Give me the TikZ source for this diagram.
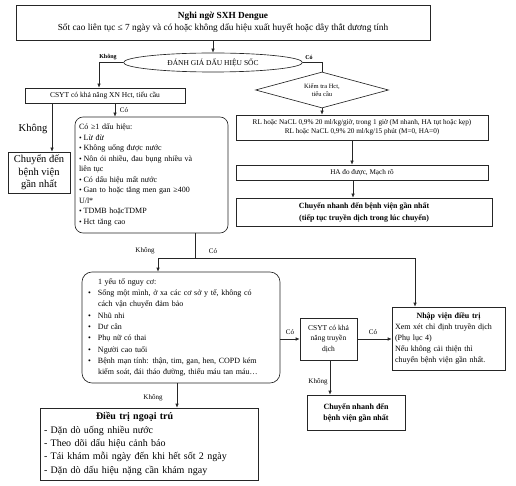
\documentclass[tikz,border=0pt]{standalone}
\usepackage{fontspec}
\setmainfont{Liberation Serif}
\usetikzlibrary{shapes.geometric,arrows.meta,calc}
\newcommand\mybul{\makebox[10pt][l]{•}}
\newcommand\smbul{{\fontsize{7.5}{7.5}\selectfont •}\hspace{2pt}}
\begin{document}
\begin{tikzpicture}[x=1pt,y=-1pt,
  box/.style={draw=black!85, line width=0.65pt, inner sep=2pt},
  arr/.style={draw=black!85, line width=0.65pt, -{Latex[length=4pt,width=3.5pt]}},
  ln/.style={draw=black!85, line width=0.65pt},
  lbl/.style={inner sep=0pt, font=\fontsize{7}{8}\selectfont},
  blbl/.style={inner sep=0pt, font=\fontsize{6}{7}\selectfont\bfseries},
]
\useasboundingbox (0,0) rectangle (516,486);

% nodes
\node[box, minimum width=414pt, minimum height=35pt, align=center,
  font=\fontsize{9.3}{12.5}\selectfont] (top) at (223,22.5)
  {\textbf{Nghi ngờ SXH Dengue}\\Sốt cao liên tục ≤ 7 ngày và có hoặc không dấu hiệu xuất huyết hoặc dây thắt dương tính};

\node[draw=black!85, line width=0.65pt, ellipse, minimum width=179pt, minimum height=19pt, inner sep=0pt,
  font=\fontsize{7.5}{9}\selectfont] (ell) at (213,62.5) {ĐÁNH GIÁ DẤU HIỆU SỐC};

\node[draw=black!85, line width=0.65pt, diamond, shape aspect=3.7, minimum width=133pt, minimum height=36pt,
  inner sep=0pt, align=center, font=\fontsize{6.5}{8}\selectfont] (dia) at (322,90) {Kiểm tra Hct,\\tiểu cầu};

\node[box, minimum width=160pt, minimum height=15pt, font=\fontsize{7.5}{9}\selectfont] (csyt1) at (105,95.5)
  {CSYT có khả năng XN Hct, tiểu cầu};

\node[box, minimum width=62pt, minimum height=41pt, align=center, inner sep=1pt,
  font=\fontsize{10.5}{12.5}\selectfont] (cd1) at (39,172.5) {Chuyển đến\\bệnh viện\\gần nhất};

\node[box, rounded corners=8pt, minimum width=153pt, minimum height=116pt, text width=145pt, align=left,
  font=\fontsize{8}{10.5}\selectfont] (b1) at (151.5,175)
  {Có ≥1 dấu hiệu:\\
   \smbul Lừ đừ\\
   \smbul Không uống được nước\\
   \smbul Nôn ói nhiều, đau bụng nhiều và\\
   liên tục\\
   \smbul Có dấu hiệu mất nước\\
   \smbul Gan to hoặc tăng men gan ≥400\\
   U/l*\\
   \smbul TDMB hoặcTDMP\\
   \smbul Hct tăng cao};

\node[box, minimum width=252pt, minimum height=25pt, align=center,
  font=\fontsize{7.2}{9}\selectfont] (rl) at (362,127.5)
  {RL hoặc NaCL 0,9\% 20 ml/kg/giờ, trong 1 giờ (M nhanh, HA tụt hoặc kẹp)\\
   RL hoặc NaCL 0,9\% 20 ml/kg/15 phút (M=0, HA=0)};

\node[box, minimum width=252pt, minimum height=15pt, font=\fontsize{7.2}{9}\selectfont] (ha) at (362,172.5)
  {HA đo được, Mạch rõ};

\node[box, minimum width=256pt, minimum height=28pt, align=center,
  font=\fontsize{7.9}{12}\selectfont\bfseries] (cn) at (364,212)
  {Chuyển nhanh đến bệnh viện gần nhất\\(tiếp tục truyền dịch trong lúc chuyển)};

\node[box, rounded corners=10pt, minimum width=198pt, minimum height=111pt, text width=186pt, align=left,
  font=\fontsize{8}{11.3}\selectfont] (risk) at (181,327.5)
  {\hspace*{10pt}1 yếu tố nguy cơ:\\
   \mybul Sống một mình, ở xa các cơ sở y tế, không có\\
   \hspace*{10pt}cách vận chuyển đảm bảo\\
   \mybul Nhũ nhi\\
   \mybul Dư cân\\
   \mybul Phụ nữ có thai\\
   \mybul Người cao tuổi\\
   \mybul \makebox[174pt][s]{Bệnh mạn tính: thận, tim, gan, hen, COPD kém}\\
   \hspace*{10pt}kiểm soát, đái tháo đường, thiếu máu tan máu…};

\node[box, minimum width=57pt, minimum height=42pt, align=center, inner sep=1pt,
  font=\fontsize{7.5}{10.5}\selectfont] (csyt2) at (328.5,339) {CSYT có khả\\năng truyền\\dịch};

\node[box, minimum width=113pt, minimum height=63pt, text width=107pt, align=left,
  font=\fontsize{8}{11}\selectfont] (nv) at (448.5,338.5)
  {\makebox[107pt]{\textbf{Nhập viện điều trị}}\\
   Xem xét chỉ định truyền dịch\\
   (Phụ lục 4)\\
   Nếu không cải thiện thì\\
   chuyển bệnh viện gần nhất.};

\node[box, minimum width=98pt, minimum height=35pt, align=center,
  font=\fontsize{8}{11}\selectfont\bfseries] (cn2) at (356,412.5) {Chuyển nhanh đến\\bệnh viện gần nhất};

\node[box, minimum width=218pt, minimum height=72pt, text width=210pt, align=left,
  font=\fontsize{10}{13.3}\selectfont] (dt) at (149,444)
  {\hspace*{52pt}\textbf{Điều trị ngoại trú}\\
   - Dặn dò uống nhiều nước\\
   - Theo dõi dấu hiệu cảnh báo\\
   - Tái khám mỗi ngày đến khi hết sốt 2 ngày\\
   - Dặn dò dấu hiệu nặng cần khám ngay};

% connectors
\draw[arr] (ell.north |- top.south) -- (ell.north);
\draw[arr] (ell.west) -| ([xshift=-6pt]csyt1.north);
\draw[ln] (ell.east) -| (dia.north);
\draw[arr] (dia.south) -- (dia.south |- rl.north);
\draw[arr] ([xshift=13pt]cd1.north |- csyt1.south) -- ([xshift=13pt]cd1.north);
\draw[arr] ([xshift=10pt]csyt1.south) -- ([xshift=10pt]csyt1.south |- b1.north);
\draw[arr] ([xshift=-10pt]rl.south) -- ([xshift=-10pt]ha.north);
\draw[arr] ([xshift=-9pt]ha.south) -- ([xshift=-9pt]ha.south |- cn.north);
\coordinate (j) at (195,258.5);
\draw[ln] (j |- b1.south) -- (j);
\draw[arr] (j) -| ([xshift=-23pt]risk.north);
\draw[arr] (j) -| ([xshift=-33.5pt]nv.north);
\draw[arr] (risk.east |- csyt2.west) -- (csyt2.west);
\draw[arr] (csyt2.east) -- (csyt2.east -| nv.west);
\draw[arr] ([xshift=1.5pt]csyt2.south) -- ([xshift=1.5pt]csyt2.south |- cn2.north);
\draw[arr] ([xshift=-4pt]risk.south) -- ([xshift=-4pt]risk.south |- dt.north);

% labels
\node[blbl] (k1) at (108,57) {Không};
\node[blbl] (c1) at (309,57) {Có};
\node[inner sep=0pt, font=\fontsize{10.5}{12}\selectfont] (k2) at (33,129) {Không};
\node[lbl] (c2) at (124,110) {Có};
\node[lbl] (k3) at (145,251) {Không};
\node[lbl] (c3) at (213,251) {Có};
\node[lbl] (c4) at (290,332) {Có};
\node[lbl] (c5) at (373,332) {Có};
\node[lbl] (k4) at (318,382) {Không};
\node[lbl] (k5) at (153,398) {Không};
\end{tikzpicture}
\end{document}
